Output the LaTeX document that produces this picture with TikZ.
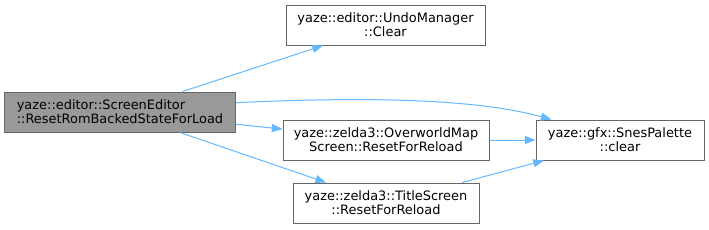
\documentclass[tikz,border=0pt]{standalone}
\usepackage{fontspec}
\setmainfont{DejaVu Sans}
\usetikzlibrary{arrows.meta}
\definecolor{calledge}{HTML}{63B8FF}
\definecolor{boxline}{HTML}{666666}
\definecolor{boxfill}{HTML}{999999}
\tikzset{
  fnbox/.style={draw=boxline, line width=0.75pt, fill=white, inner sep=0pt, minimum height=30pt, align=center, font=\fontsize{9.7}{10.5}\selectfont},
  rootbox/.style={fnbox, fill=boxfill, align=left},
  callarrow/.style={draw=calledge, line width=0.75pt, -{Triangle[length=8pt,width=6pt]}},
}

\begin{document}
\begin{tikzpicture}[x=0.75pt,y=-0.75pt]
\useasboundingbox (0,0) rectangle (709,229);
\node[rootbox, minimum width=173.25pt] (reset) at (120,112) {yaze::editor::ScreenEditor\\::ResetRomBackedStateForLoad};
\node[fnbox, minimum width=149.25pt] (undo) at (385.5,25) {yaze::editor::UndoManager\\::Clear};
\node[fnbox, minimum width=154.5pt] (owmap) at (386,140) {yaze::zelda3::OverworldMap\\Screen::ResetForReload};
\node[fnbox, minimum width=139.5pt] (title) at (386,203) {yaze::zelda3::TitleScreen\\::ResetForReload};
\node[fnbox, minimum width=126pt] (palette) at (620,140) {yaze::gfx::SnesPalette\\::clear};
\draw[callarrow] (reset) -- (undo);
\draw[callarrow] ([yshift=7pt]reset.east) .. controls (380,96) and (480,100) .. ([xshift=12pt]palette.north west);
\draw[callarrow] (reset) -- (owmap);
\draw[callarrow] (reset) -- (title);
\draw[callarrow] (owmap) -- (palette);
\draw[callarrow] (title) -- (palette);
\end{tikzpicture}
\end{document}
